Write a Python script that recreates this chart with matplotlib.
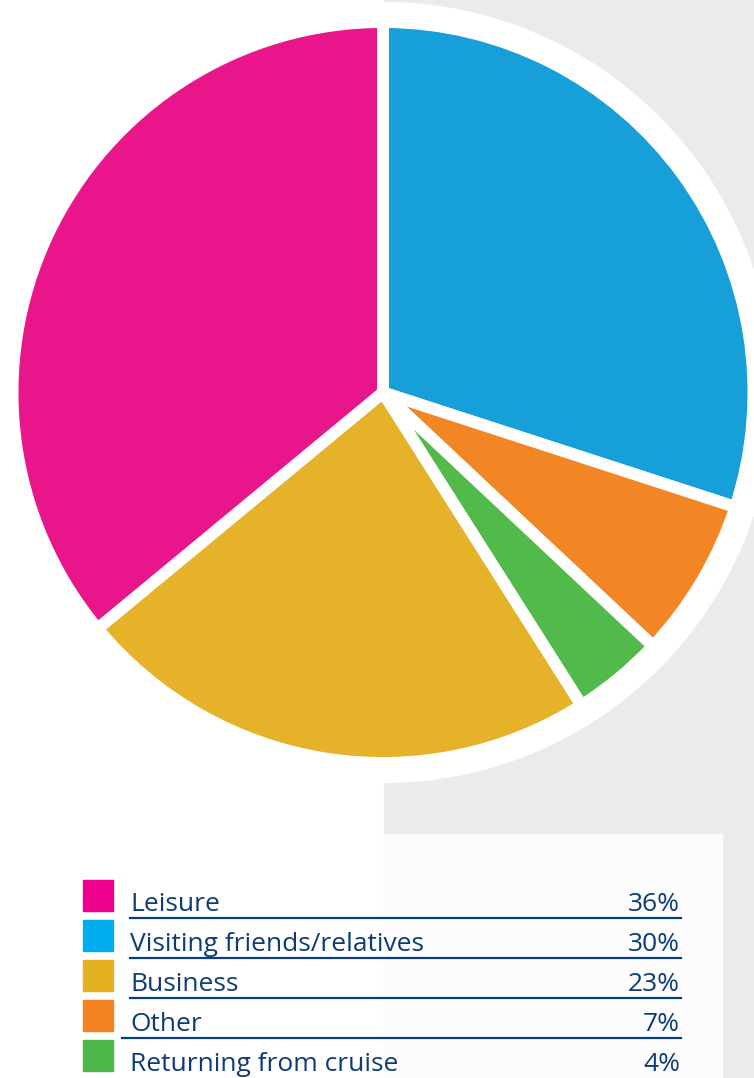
import matplotlib.pyplot as plt
from matplotlib.patches import Rectangle, Circle

# Data (clockwise from 12 o'clock)
pie_labels = ["Visiting friends/relatives", "Other", "Returning from cruise", "Business", "Leisure"]
pie_values = [30, 7, 4, 23, 36]
pie_colors = ["#179FDA", "#F28524", "#52BA4B", "#E5B229", "#E8158B"]

legend_labels = ["Leisure", "Visiting friends/relatives", "Business", "Other", "Returning from cruise"]
legend_values = [36, 30, 23, 7, 4]
legend_colors = ["#EC008C", "#00AEEF", "#E5B022", "#F58220", "#4DB848"]

W, H = 754, 1078
fig = plt.figure(figsize=(W / 100, H / 100), dpi=100)
ax = fig.add_axes([0, 0, 1, 1])
ax.set_xlim(0, W)
ax.set_ylim(0, H)
ax.axis("off")

def yi(y):
    # image y (top-down) -> data y
    return H - y

# background panels
ax.add_patch(Rectangle((384, 0), W - 384, H, color="#EBEBED", zorder=0))
ax.add_patch(Rectangle((384, 0), 722 - 384, yi(834), color="#FCFCFC", zorder=0.5))

cx, cy = 383, yi(392.5)
ax.add_patch(Circle((cx, cy), 390, color="white", zorder=1))

wedges, _ = ax.pie(pie_values, colors=pie_colors, startangle=90, counterclock=False,
                   center=(cx, cy), radius=370.5,
                   wedgeprops=dict(edgecolor="white", linewidth=8.6))
for w in wedges:
    w.set_zorder(2)

ax.set_xlim(0, W)
ax.set_ylim(0, H)
ax.set_aspect("equal")

navy = "#0D3B78"
for i, (lab, val, col) in enumerate(zip(legend_labels, legend_values, legend_colors)):
    top = 880 + 40 * i
    ax.add_patch(Rectangle((83, yi(top + 31)), 30, 31, color=col, zorder=3))
    ax.text(130, yi(top + 31), lab, fontsize=19, family="Open Sans", color=navy,
            va="baseline", ha="left", zorder=3)
    ax.text(680, yi(top + 31), f"{val}%", fontsize=19, family="Open Sans", color=navy,
            va="baseline", ha="right", zorder=3)
    if i < 4:
        x0 = 122 if i == 3 else 130
        ax.plot([x0, 681], [yi(top + 38)] * 2, color="#0A3D7E", lw=1.6, zorder=3)

fig.savefig("out.png", dpi=100)
